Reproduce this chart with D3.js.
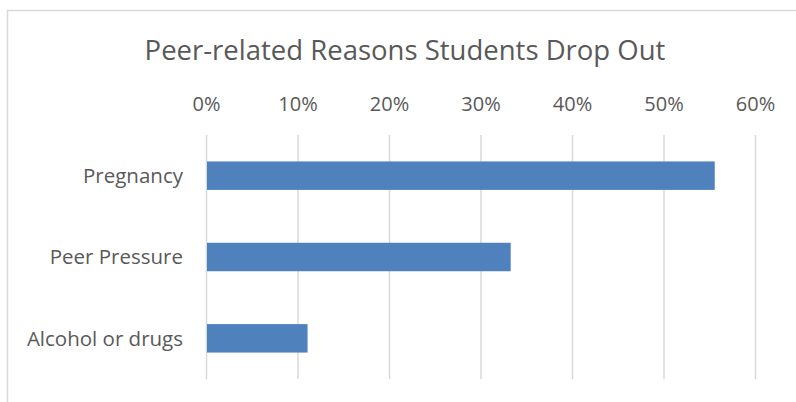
<!DOCTYPE html>
<html>
<head>
<meta charset="utf-8">
<script src="https://cdn.jsdelivr.net/npm/d3@7"></script>
<style>
  body { margin: 0; background: #fff; }
  text { font-family: "Open Sans", sans-serif; fill: #595959; }
</style>
</head>
<body>
<div id="chart"></div>
<script>
var categories = ["Pregnancy", "Peer Pressure", "Alcohol or drugs"];
var values = [0.556, 0.333, 0.111];
var tickValues = [0, 0.1, 0.2, 0.3, 0.4, 0.5, 0.6];
var title = "Peer-related Reasons Students Drop Out";

var w = 796, h = 402;
var plotLeft = 206, plotRight = 755, plotTop = 135, plotBottom = 379;

var svg = d3.select("#chart").append("svg")
    .attr("width", w)
    .attr("height", h);

// chart border (runs off the picture on the right and bottom)
svg.append("rect")
    .attr("x", 7.5).attr("y", 10.5)
    .attr("width", 820).attr("height", 420)
    .attr("fill", "#fff")
    .attr("stroke", "#d9d9d9")
    .attr("stroke-width", 1.5);

var x = d3.scaleLinear().domain([0, 0.6]).range([plotLeft, plotRight]);
var y = d3.scaleBand().domain(categories).range([plotTop, plotBottom])
    .paddingInner(0.65).paddingOuter(0.325);

// gridlines
svg.append("g")
    .attr("transform", "translate(0," + plotBottom + ")")
    .call(d3.axisTop(x).tickValues(tickValues).tickSize(plotBottom - plotTop).tickFormat(""))
    .call(function(g) {
        g.select(".domain").remove();
        g.selectAll("line").attr("stroke", "#d9d9d9").attr("stroke-width", 1.5);
    });

// tick labels on top
svg.append("g")
    .attr("transform", "translate(0,111)")
    .call(d3.axisTop(x).tickValues(tickValues).tickSize(0).tickPadding(0).tickFormat(d3.format(".0%")))
    .call(function(g) {
        g.select(".domain").remove();
        g.selectAll("text").attr("font-size", "20px").attr("fill", "#595959")
            .style("font-family", "'Open Sans', sans-serif");
    });

// bars
svg.selectAll("rect.bar")
    .data(values)
    .enter()
    .append("rect")
    .attr("class", "bar")
    .attr("x", x(0) + 1)
    .attr("y", function(d, i) { return y(categories[i]); })
    .attr("width", function(d) { return x(d) - x(0) - 1; })
    .attr("height", y.bandwidth())
    .attr("fill", "#4f81bd");

// category labels
svg.selectAll("text.cat")
    .data(categories)
    .enter()
    .append("text")
    .attr("class", "cat")
    .attr("x", 183)
    .attr("y", function(d) { return y(d) + y.bandwidth() / 2; })
    .attr("dy", "0.35em")
    .attr("text-anchor", "end")
    .attr("font-size", "20.5px")
    .text(function(d) { return d; });

svg.append("text")
    .attr("x", 405)
    .attr("y", 60)
    .attr("text-anchor", "middle")
    .attr("font-size", "27.5px")
    .text(title);
</script>
</body>
</html>
